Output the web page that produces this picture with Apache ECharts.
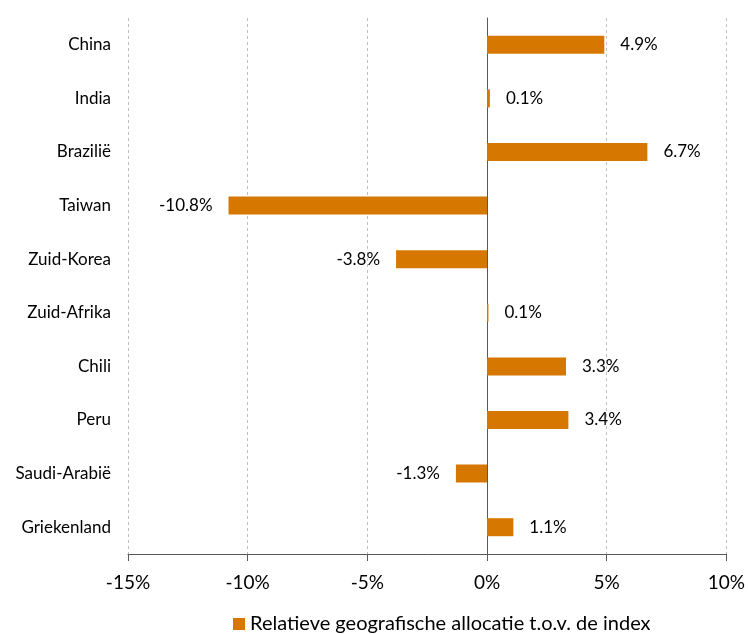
<!DOCTYPE html>
<html>
<head>
<meta charset="utf-8">
<script src="https://cdn.jsdelivr.net/npm/echarts@6/dist/echarts.min.js"></script>
<style>html,body{margin:0;padding:0;background:#fff}#c{width:748px;height:634px}</style>
</head>
<body>
<div id="c"></div>
<script>
const categories = ["China","India","Brazilië","Taiwan","Zuid-Korea","Zuid-Afrika","Chili","Peru","Saudi-Arabië","Griekenland"];
const values = [4.9, 0.12, 6.7, -10.8, -3.8, 0.06, 3.3, 3.4, -1.3, 1.1];
const xTicks = [-15, -10, -5, 0, 5, 10];
const seriesName = "Relatieve geografische allocatie t.o.v. de index";

const font = "Lato, 'Open Sans', 'Liberation Sans', sans-serif";
const chart = echarts.init(document.getElementById('c'));
chart.setOption({
  animation: false,
  grid: {left: 128, right: 20, top: 18, bottom: 80, containLabel: false},
  legend: {
    left: 228, top: 609, itemWidth: 12, itemHeight: 12, itemGap: 6,
    icon: 'rect',
    textStyle: {fontFamily: font, fontSize: 20, color: '#000'},
    data: [seriesName]
  },
  xAxis: {
    type: 'value', min: xTicks[0], max: xTicks[xTicks.length-1], interval: 5,
    axisLine: {show: true, lineStyle: {color: '#595959', width: 1}},
    axisTick: {show: true, length: 7, lineStyle: {color: '#595959'}},
    axisLabel: {formatter: v => v + '%', fontFamily: font, fontSize: 19, color: '#000', margin: 19},
    splitLine: {show: true, lineStyle: {color: '#bfbfbf', type: [3, 3], width: 1}}
  },
  yAxis: {
    type: 'category', data: categories, inverse: true,
    axisLine: {show: true, onZero: true, lineStyle: {color: '#595959', width: 1}},
    axisTick: {show: false},
    axisLabel: {fontFamily: font, fontSize: 17, color: '#000', margin: 17},
    splitLine: {show: false}
  },
  series: [{
    name: seriesName, type: 'bar', barWidth: 18,
    itemStyle: {color: '#D67800'},
    label: {
      show: true, fontFamily: font, fontSize: 17, color: '#000', distance: 16,
      formatter: p => p.value.toFixed(1) + '%'
    },
    data: values.map(v => ({value: v, label: {position: v >= 0 ? 'right' : 'left'}}))
  }]
});
</script>
</body>
</html>
